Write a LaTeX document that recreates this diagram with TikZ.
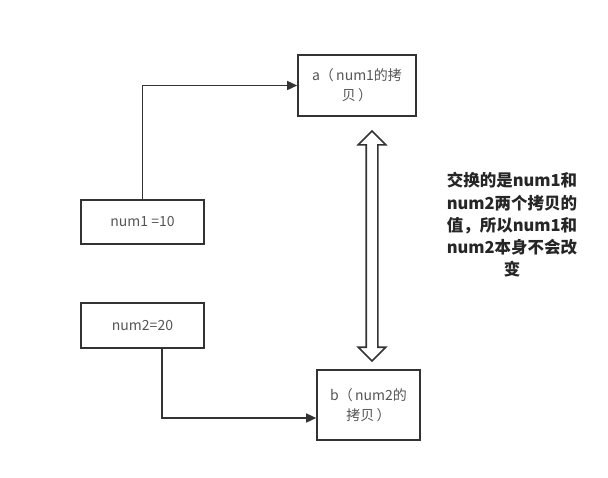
\documentclass[tikz,border=0pt]{standalone}
\usepackage{fontspec}
\setmainfont{Noto Sans CJK SC}
\usepackage{tikz}
\usetikzlibrary{arrows.meta, positioning, shapes.arrows}
\definecolor{boxline}{HTML}{333333}
\definecolor{boxtext}{HTML}{555555}
\tikzstyle{arrow} = [line width=1.5pt, draw=boxline, -{Triangle[length=10pt,width=9pt]}]

\begin{document}
\begin{tikzpicture}[
    x=1pt, y=-1pt,
    box/.style={
        rectangle,
        draw=boxline,
        line width=1.6pt,
        text=boxtext,
        font=\fontsize{14}{20}\selectfont,
        align=center,
        inner sep=0pt
    }
]
    \useasboundingbox (0,0) rectangle (608,477);

    \node[box, minimum width=123pt, minimum height=44pt] (num1) at (142.5,222)
        {num1 =10};
    \node[box, minimum width=123pt, minimum height=45pt] (num2) at (142.5,325.5)
        {num2=20};

    \node[box, minimum width=118pt, minimum height=61pt] (copya) at (357,85.5)
        {a（\,num1的拷\\贝\,）};
    \node[box, minimum width=103pt, minimum height=70pt] (copyb) at (368.5,405)
        {b（\,num2的\\拷贝\,）};

    \draw[arrow] (num1.north) |- (copya.west);
    \draw[arrow] ([xshift=19.5pt]num2.south) |- ([yshift=-13pt]copyb.west);

    % hollow double arrow between the two copies
    \node[double arrow, draw=boxline, line width=1.6pt, rotate=90,
        minimum height=230pt, minimum width=26pt, inner sep=5pt,
        double arrow head extend=8pt] (swap) at (372,246) {};

    \node[font=\bfseries\fontsize{16.5}{22.2}\selectfont, text=black!85, align=center,
        anchor=north] (note) at (512,169)
        {交换的是num1和\\num2两个拷贝的\\值，所以num1和\\num2本身不会改\\变};
\end{tikzpicture}
\end{document}
